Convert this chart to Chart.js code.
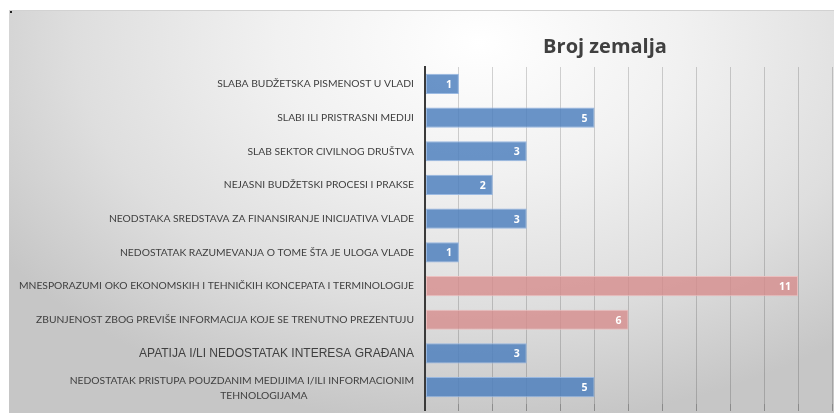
<!DOCTYPE html>
<html>
<head>
<meta charset="utf-8">
<script src="https://cdn.jsdelivr.net/npm/chart.js@4.4.1/dist/chart.umd.min.js"></script>
<style>
  html, body { margin: 0; padding: 0; background: #ffffff; }
  body { width: 834px; height: 413px; position: relative; overflow: hidden; }
  #panel {
    position: absolute; left: 9px; top: 10px; width: 825px; height: 403px;
    background: radial-gradient(ellipse 70% 95% at 57% 8%, #ffffff 0%, #f1f1f1 35%, #dedede 70%, #c6c6c6 100%);
  }
  #topline { position: absolute; left: 9px; top: 10px; width: 825px; height: 1px; background: #d2d2d2; }
  #dot { position: absolute; left: 10px; top: 11px; width: 2px; height: 2px; background: #222; }
  canvas { position: absolute; left: 0; top: 0; }
</style>
</head>
<body>
<div id="panel"><canvas id="c" width="825" height="403"></canvas></div>
<div id="topline"></div>
<div id="dot"></div>
<script>
const titleText = "Broj zemalja";
const categories = [
  ["SLABA BUDŽETSKA PISMENOST U VLADI"],
  ["SLABI ILI PRISTRASNI MEDIJI"],
  ["SLAB SEKTOR CIVILNOG DRUŠTVA"],
  ["NEJASNI BUDŽETSKI PROCESI I PRAKSE"],
  ["NEODSTAKA SREDSTAVA ZA FINANSIRANJE INICIJATIVA VLADE"],
  ["NEDOSTATAK RAZUMEVANJA O TOME ŠTA JE ULOGA VLADE"],
  ["MNESPORAZUMI OKO EKONOMSKIH I TEHNIČKIH KONCEPATA I TERMINOLOGIJE"],
  ["ZBUNJENOST ZBOG PREVIŠE INFORMACIJA KOJE SE TRENUTNO PREZENTUJU"],
  ["APATIJA I/LI NEDOSTATAK INTERESA GRAĐANA"],
  ["NEDOSTATAK PRISTUPA POUZDANIM MEDIJIMA I/ILI INFORMACIONIM", "TEHNOLOGIJAMA"]
];
const values = [1, 5, 3, 2, 3, 1, 11, 6, 3, 5];
const highlighted = [false, false, false, false, false, false, true, true, false, false];
const axisMax = 12;

const BLUE = 'rgba(78,128,190,0.84)';
const BLUE_BORDER = 'rgba(150,182,224,0.95)';
const PINK = 'rgba(214,138,138,0.78)';
const PINK_BORDER = 'rgba(236,190,190,0.95)';
const LABEL_FONT = '10.3px Lato';
const SPECIAL_FONT = { 8: '12px "Liberation Sans"' };

const labelPlugin = {
  id: 'yLabels',
  afterDraw(chart) {
    const ctx = chart.ctx;
    const ys = chart.scales.y;
    const left = chart.chartArea.left;
    ctx.save();
    ctx.fillStyle = '#404040';
    ctx.textBaseline = 'middle';
    categories.forEach((lines, i) => {
      const y = ys.getPixelForValue(i);
      ctx.font = SPECIAL_FONT[i] || LABEL_FONT;
      const xr = left - 11;
      if (lines.length === 1) {
        ctx.textAlign = 'right';
        ctx.fillText(lines[0], xr, y);
      } else {
        const lh = 15;
        const w0 = ctx.measureText(lines[0]).width;
        const cx = xr - w0 / 2 + 22;
        lines.forEach((ln, k) => {
          const ly = y - (lines.length - 1) * lh / 2 + k * lh + 1;
          if (k === 0) { ctx.textAlign = 'right'; ctx.fillText(ln, xr, ly); }
          else { ctx.textAlign = 'center'; ctx.fillText(ln, cx, ly); }
        });
      }
    });
    ctx.restore();
  }
};

const valuePlugin = {
  id: 'valueLabels',
  afterDatasetsDraw(chart) {
    const ctx = chart.ctx;
    const meta = chart.getDatasetMeta(0);
    ctx.save();
    ctx.fillStyle = '#ffffff';
    ctx.font = 'bold 10.5px "Open Sans"';
    ctx.textAlign = 'right';
    ctx.textBaseline = 'middle';
    meta.data.forEach((bar, i) => {
      ctx.fillText(String(values[i]), bar.x - 7, bar.y + 1);
    });
    ctx.restore();
  }
};

const titlePlugin = {
  id: 'customTitle',
  afterDraw(chart) {
    const ctx = chart.ctx;
    ctx.save();
    ctx.fillStyle = '#404040';
    ctx.font = 'bold 20px "Open Sans"';
    ctx.textAlign = 'center';
    ctx.textBaseline = 'middle';
    ctx.fillText(titleText, 596, 37);
    ctx.restore();
  }
};

new Chart(document.getElementById('c'), {
  type: 'bar',
  data: {
    labels: categories.map(l => l.join(' ')),
    datasets: [{
      data: values,
      backgroundColor: highlighted.map(h => h ? PINK : BLUE),
      borderColor: highlighted.map(h => h ? PINK_BORDER : BLUE_BORDER),
      borderWidth: 1,
      borderSkipped: false,
      barPercentage: 0.6,
      categoryPercentage: 1.0
    }]
  },
  options: {
    indexAxis: 'y',
    responsive: false,
    animation: false,
    devicePixelRatio: 1,
    layout: { padding: { top: 57, right: 2, bottom: 2, left: 0 } },
    plugins: { legend: { display: false }, title: { display: false }, tooltip: { enabled: false } },
    scales: {
      x: {
        type: 'linear', min: 0, max: axisMax,
        ticks: { display: false, stepSize: 1 },
        grid: {
          color: ctx => (ctx.tick && ctx.tick.value === 0) ? '#3a3a3a' : 'rgba(0,0,0,0.17)',
          lineWidth: ctx => (ctx.tick && ctx.tick.value === 0) ? 2 : 1,
          drawTicks: true, tickLength: 7, tickColor: ctx => (ctx.tick && ctx.tick.value === 0) ? '#3a3a3a' : 'rgba(0,0,0,0.3)'
        },
        border: { display: false }
      },
      y: {
        type: 'category',
        ticks: { display: false },
        grid: { display: false },
        border: { display: true, color: '#3a3a3a', width: 2 },
        afterFit(s) { s.width = 416; }
      }
    }
  },
  plugins: [valuePlugin, labelPlugin, titlePlugin]
});
</script>
</body>
</html>
